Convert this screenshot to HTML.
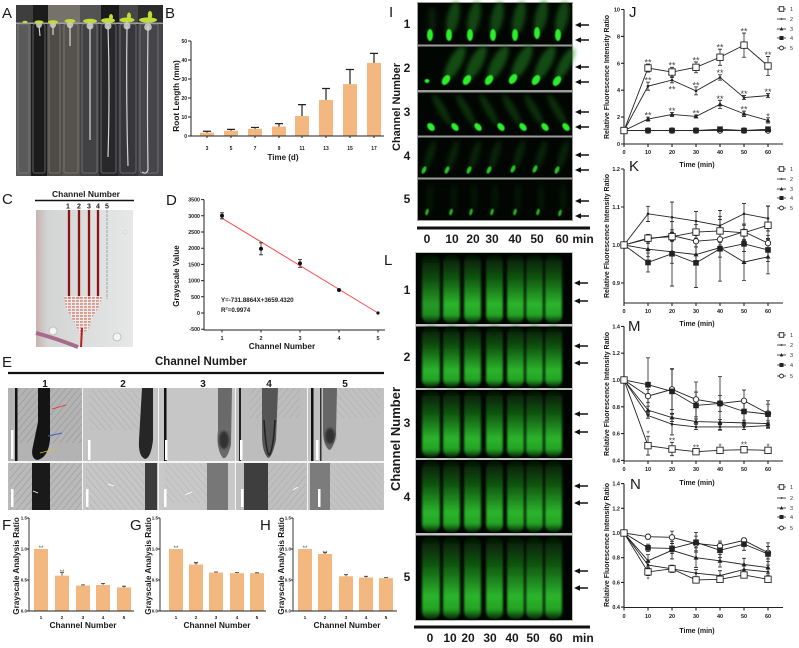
<!DOCTYPE html>
<html><head><meta charset="utf-8"><title>Figure</title>
<style>
html,body{margin:0;padding:0;background:#fff;width:799px;height:648px;overflow:hidden}
svg{display:block;font-family:"Liberation Sans",Arial,sans-serif}
text{fill:#1a1a1a}
.b{font-weight:bold}
</style></head><body>
<svg id="fig" width="799" height="648" viewBox="0 0 799 648" xmlns="http://www.w3.org/2000/svg">
<defs>
 <filter id="bl06" x="-50%" y="-50%" width="200%" height="200%"><feGaussianBlur stdDeviation="0.6"/></filter>
 <filter id="bl1" x="-50%" y="-50%" width="200%" height="200%"><feGaussianBlur stdDeviation="1"/></filter>
 <filter id="bl2" x="-50%" y="-50%" width="200%" height="200%"><feGaussianBlur stdDeviation="2"/></filter>
 <linearGradient id="lg" x1="0" y1="0" x2="0" y2="1">
  <stop offset="0" stop-color="#041404"/>
  <stop offset="0.35" stop-color="#105810"/>
  <stop offset="0.72" stop-color="#2cb42c"/>
  <stop offset="0.88" stop-color="#24a424"/>
  <stop offset="1" stop-color="#062406"/>
 </linearGradient>
 <linearGradient id="cg" x1="0" y1="0" x2="1" y2="0">
  <stop offset="0" stop-color="#c9b2b2"/>
  <stop offset="0.12" stop-color="#d3d5d4"/>
  <stop offset="1" stop-color="#e6e8e7"/>
 </linearGradient>
 <pattern id="grid" width="4" height="3" patternUnits="userSpaceOnUse">
  <rect width="4" height="3" fill="#d49080"/>
  <rect x="0" y="1.9" width="4" height="1.1" fill="#f0eeee"/>
  <rect x="2.9" y="0" width="1.1" height="3" fill="#f0eeee"/>
 </pattern>
 <pattern id="hairA" width="5" height="5" patternUnits="userSpaceOnUse" patternTransform="rotate(-50)">
  <line x1="0" y1="0" x2="5" y2="0" stroke="#333" stroke-width="0.6"/>
 </pattern>
 <pattern id="hairB" width="5" height="5" patternUnits="userSpaceOnUse" patternTransform="rotate(50)">
  <line x1="0" y1="0" x2="5" y2="0" stroke="#333" stroke-width="0.6"/>
 </pattern>
 <path id="arr" d="M0 0 L6 -2.8 L6 -0.8 L14 -0.8 L14 0.8 L6 0.8 L6 2.8 Z"/>
</defs>

<!-- ================= Panel A ================= -->
<text x="2" y="18" font-size="15">A</text>
<rect x="16" y="5" width="147" height="171" fill="#3c3c3c"/>
<rect x="16" y="24" width="15" height="152" fill="#5a5a5a"/>
<rect x="31" y="24" width="16" height="152" fill="#1c1c1c"/>
<rect x="47" y="24" width="15" height="152" fill="#4f4c48"/>
<rect x="62" y="24" width="18" height="152" fill="#56524e"/>
<rect x="80" y="24" width="19" height="152" fill="#424245"/>
<rect x="99" y="24" width="19" height="152" fill="#28282b"/>
<rect x="118" y="24" width="20" height="152" fill="#37373b"/>
<rect x="138" y="24" width="25" height="152" fill="#46464a"/>
<rect x="16" y="5" width="17" height="19" fill="#3e3e3e"/>
<rect x="33" y="5" width="15" height="19" fill="#1c1c1c"/>
<rect x="48" y="5" width="32" height="19" fill="#77716b"/>
<rect x="80" y="5" width="21" height="19" fill="#535353"/>
<rect x="101" y="5" width="18" height="19" fill="#1a1a1a"/>
<rect x="119" y="5" width="19" height="19" fill="#474747"/>
<rect x="138" y="5" width="25" height="19" fill="#2c2c2c"/>
<rect x="16" y="22.5" width="147" height="1.5" fill="#a0a0a0"/>
<g fill="none" stroke="#8c8c8c" stroke-width="0.8" opacity="0.75">
 <rect x="18" y="24" width="11" height="149" rx="2"/>
 <rect x="33" y="24" width="12" height="149" rx="2"/>
 <rect x="49" y="24" width="11" height="149" rx="2"/>
 <rect x="64" y="24" width="14" height="149" rx="2"/>
 <rect x="82" y="24" width="15" height="149" rx="2"/>
 <rect x="101" y="24" width="15" height="149" rx="2"/>
 <rect x="120" y="24" width="16" height="149" rx="2"/>
 <rect x="140" y="24" width="18" height="149" rx="2"/>
</g>
<g stroke="#d4d4d4" stroke-width="1.2" fill="none">
 <path d="M39 26 L40 36"/>
 <path d="M53 26 L53 35"/>
 <path d="M70 26 L70 46"/>
 <path d="M90 26 L90 140"/>
 <path d="M108 26 Q110 90 108 157"/>
 <path d="M127 26 Q126 100 128 166"/>
 <path d="M148 26 Q147 110 148 170 Q146 175 142 172"/>
</g>
<g fill="#d2d2d2" opacity="0.85">
 <circle cx="39" cy="25" r="3"/><circle cx="53" cy="25" r="3"/><circle cx="70" cy="25" r="3.2"/>
 <circle cx="90" cy="26" r="3.5"/><circle cx="108" cy="26" r="3.5"/><circle cx="127" cy="26" r="3.5"/><circle cx="148" cy="27" r="3.8"/>
</g>
<g fill="#c0dc38">
 <ellipse cx="25" cy="22" rx="2.5" ry="1.2"/>
 <ellipse cx="39" cy="22" rx="4.5" ry="1.6"/>
 <ellipse cx="53" cy="22" rx="5" ry="1.8"/>
 <ellipse cx="70" cy="21" rx="5.5" ry="2"/>
 <ellipse cx="90" cy="21" rx="7" ry="2.2"/>
 <ellipse cx="108" cy="20.5" rx="7" ry="2.4"/><ellipse cx="111" cy="17" rx="2" ry="3"/>
 <ellipse cx="127" cy="20" rx="7.5" ry="2.5"/><ellipse cx="129" cy="16" rx="2" ry="3.5"/>
 <ellipse cx="148" cy="20" rx="9" ry="2.6"/><ellipse cx="150" cy="15" rx="2.2" ry="4"/>
</g>

<!-- ================= Panel B ================= -->
<text x="165" y="18" font-size="15">B</text>
<g fill="#f3b87f">
 <rect x="200" y="132.6" width="14" height="3.4"/>
 <rect x="224" y="130.7" width="14" height="5.3"/>
 <rect x="248" y="128.8" width="14" height="7.2"/>
 <rect x="272" y="126.5" width="14" height="9.5"/>
 <rect x="295" y="116.05" width="14" height="19.95"/>
 <rect x="319" y="99.9" width="14" height="36.1"/>
 <rect x="343" y="84.1" width="14" height="51.9"/>
 <rect x="367" y="62.85" width="14" height="73.15"/>
</g>
<path d="M207 132.6V131.25M203 131.25h8M231 130.7V129.35M227 129.35h8M255 128.8V127.45M251 127.45h8M279 126.5V123.65M275 123.65h8M302 116.05V104.65M298 104.65h8M326 99.9V88.5M322 88.5h8M350 84.1V69.5M346 69.5h8M374 62.85V53.35M370 53.35h8" stroke="#222" stroke-width="1.2" fill="none"/>
<path d="M191 41V136H384M188 41h3M188 60h3M188 79h3M188 98h3M188 117h3M188 136h3M207 136v2M231 136v2M255 136v2M279 136v2M302 136v2M326 136v2M350 136v2M374 136v2" stroke="#222" stroke-width="1" fill="none"/>
<g font-size="5" class="b" text-anchor="end">
 <text x="187" y="43">50</text><text x="187" y="62">40</text><text x="187" y="81">30</text>
 <text x="187" y="100">20</text><text x="187" y="119">10</text><text x="187" y="138">0</text>
</g>
<g font-size="5" class="b" text-anchor="middle">
 <text x="207" y="150">3</text><text x="231" y="150">5</text><text x="255" y="150">7</text><text x="279" y="150">9</text>
 <text x="302" y="150">11</text><text x="326" y="150">13</text><text x="350" y="150">15</text><text x="374" y="150">17</text>
</g>
<text x="283" y="160" font-size="8" class="b" text-anchor="middle">Time (d)</text>
<text transform="translate(179,96) rotate(-90)" font-size="8.3" class="b" text-anchor="middle">Root Length (mm)</text>

<!-- ================= Panel C ================= -->
<text x="2" y="204" font-size="15">C</text>
<text x="86" y="197" font-size="8.5" class="b" text-anchor="middle">Channel Number</text>
<line x1="35" y1="200.5" x2="134" y2="200.5" stroke="#111" stroke-width="1.6"/>
<g font-size="7" class="b" text-anchor="middle">
 <text x="68" y="208.5">1</text><text x="79" y="208.5">2</text><text x="89" y="208.5">3</text><text x="98" y="208.5">4</text><text x="107" y="208.5">5</text>
</g>
<rect x="36" y="210" width="97" height="137" fill="url(#cg)"/>
<g stroke="#d49a9a" stroke-width="4" opacity="0.5">
 <line x1="69" y1="210" x2="69" y2="298"/><line x1="79" y1="210" x2="79" y2="298"/><line x1="89" y1="210" x2="89" y2="298"/><line x1="98" y1="210" x2="98" y2="298"/>
</g>
<g stroke="#861616" stroke-width="2">
 <line x1="69" y1="210" x2="69" y2="299"/><line x1="79" y1="210" x2="79" y2="299"/><line x1="89" y1="210" x2="89" y2="299"/><line x1="98" y1="210" x2="98" y2="299"/>
</g>
<line x1="107" y1="210" x2="107" y2="299" stroke="#b4b4b4" stroke-width="1.4" stroke-dasharray="3 1"/>
<polygon points="64,296 102,296 100,305 92,318 88,330 80,334 74,322 66,308" fill="url(#grid)" opacity="0.85"/>
<path d="M36 333 Q55 338 78 347" stroke="#a86a8c" stroke-width="4" fill="none"/>
<path d="M82 328 L81 347" stroke="#b82020" stroke-width="2" fill="none"/>
<circle cx="53" cy="331" r="4" fill="#f4f4f4" stroke="#b8b8b8" stroke-width="0.8"/>
<circle cx="117" cy="337" r="4" fill="#f4f4f4" stroke="#b8b8b8" stroke-width="0.8"/>
<circle cx="125" cy="232" r="1.5" fill="#f6f6f6" stroke="#bbb" stroke-width="0.5"/>

<!-- ================= Panel D ================= -->
<text x="166" y="205" font-size="15">D</text>
<path d="M204 199.6V330H385M201 199.6h3M201 215.8h3M201 232h3M201 248.2h3M201 264.4h3M201 280.6h3M201 296.8h3M201 313h3M201 329.2h3M222 330v2.5M261 330v2.5M300 330v2.5M339 330v2.5M378 330v2.5" stroke="#222" stroke-width="1" fill="none"/>
<g font-size="5.3" class="b" text-anchor="end">
 <text x="200" y="201.6">3500</text><text x="200" y="217.8">3000</text><text x="200" y="234">2500</text>
 <text x="200" y="250.2">2000</text><text x="200" y="266.4">1500</text><text x="200" y="282.6">1000</text>
 <text x="200" y="298.8">500</text><text x="200" y="315">0</text><text x="200" y="331.2">-500</text>
</g>
<g font-size="5.5" class="b" text-anchor="middle">
 <text x="222" y="340">1</text><text x="261" y="340">2</text><text x="300" y="340">3</text><text x="339" y="340">4</text><text x="378" y="340">5</text>
</g>
<line x1="222" y1="218.2" x2="378" y2="313" stroke="#ff4a4a" stroke-width="1"/>
<path d="M222 212.8V218.8M220 212.8h4M220 218.8h4M261 242.8V254.8M259 242.8h4M259 254.8h4M300 259.4V267.4M298 259.4h4M298 267.4h4M339 289V291M378 312V314" stroke="#222" stroke-width="0.8" fill="none"/>
<g fill="#111">
 <circle cx="222" cy="215.8" r="2"/><circle cx="261" cy="248.8" r="2"/><circle cx="300" cy="263.4" r="2"/><circle cx="339" cy="290" r="2"/><circle cx="378" cy="313" r="1.6"/>
</g>
<text x="221" y="302" font-size="6.2" class="b">Y=-731.8864X+3659.4320</text>
<text x="221" y="312" font-size="6.2" class="b">R<tspan font-size="4" dy="-2.5">2</tspan><tspan dy="2.5">=0.9974</tspan></text>
<text x="282" y="349" font-size="8.3" class="b" text-anchor="middle">Channel Number</text>
<text transform="translate(179,276) rotate(-90)" font-size="8" class="b" text-anchor="middle">Grayscale Value</text>

<!-- ================= Panel E ================= -->
<text x="2" y="367" font-size="15">E</text>
<text x="201" y="365" font-size="11.5" class="b" text-anchor="middle">Channel Number</text>
<line x1="8" y1="373" x2="384" y2="373" stroke="#111" stroke-width="2.2"/>
<g font-size="10" class="b" text-anchor="middle">
 <text x="45" y="387">1</text><text x="123" y="387">2</text><text x="203" y="387">3</text><text x="269" y="387">4</text><text x="345" y="387">5</text>
</g>
<rect x="8" y="388" width="376" height="122" fill="#f4f4f4"/>
<rect x="8" y="388" width="74" height="73" fill="#b3b3b3"/>
<rect x="83" y="388" width="75" height="73" fill="#c3c3c3"/>
<rect x="159" y="388" width="76" height="73" fill="#c6c6c6"/>
<rect x="236" y="388" width="71" height="73" fill="#bdbdbd"/>
<rect x="308" y="388" width="76" height="73" fill="#c1c1c1"/>
<rect x="8" y="463" width="74" height="47" fill="#bababa"/>
<rect x="83" y="463" width="75" height="47" fill="#c6c6c6"/>
<rect x="159" y="463" width="76" height="47" fill="#c8c8c8"/>
<rect x="236" y="463" width="71" height="47" fill="#bfbfbf"/>
<rect x="308" y="463" width="76" height="47" fill="#c3c3c3"/>
<rect x="18" y="388" width="64" height="55" fill="url(#hairA)" opacity="0.45"/>
<rect x="90" y="390" width="50" height="40" fill="url(#hairB)" opacity="0.3"/>
<rect x="250" y="388" width="50" height="30" fill="url(#hairA)" opacity="0.3"/>
<rect x="330" y="388" width="50" height="30" fill="url(#hairB)" opacity="0.25"/>
<rect x="10" y="463" width="72" height="47" fill="url(#hairA)" opacity="0.45"/>
<rect x="86" y="463" width="58" height="47" fill="url(#hairB)" opacity="0.3"/>
<rect x="165" y="463" width="42" height="40" fill="url(#hairB)" opacity="0.25"/>
<rect x="268" y="463" width="38" height="47" fill="url(#hairA)" opacity="0.3"/>
<rect x="330" y="463" width="52" height="47" fill="url(#hairB)" opacity="0.22"/>
<rect x="15" y="388" width="2.5" height="73" fill="#111"/>
<rect x="164" y="388" width="2.5" height="73" fill="#111"/>
<rect x="239" y="388" width="2" height="73" fill="#222"/>
<rect x="311" y="388" width="2.5" height="73" fill="#111"/>
<rect x="320" y="388" width="1.5" height="73" fill="#333"/>
<path d="M38 388 L50 388 L50 440 Q48 458 37 460 Q30 458 33 446 L38 422 Z" fill="#141414"/>
<path d="M142 388 L153 388 L153 440 Q151 458 145 459 Q138 456 139 440 Z" fill="#262626"/>
<path d="M218 388 L232 388 L231 445 Q227 460 223 458 Q216 450 218 430 Z" fill="#6a6a6a"/>
<ellipse cx="224" cy="440" rx="5" ry="9" fill="#333" filter="url(#bl1)"/>
<path d="M262 388 L278 388 L276 440 Q272 458 268 458 Q262 452 262 435 Z" fill="#555"/>
<path d="M264 420 Q266 452 269 455 Q273 452 275 420" fill="none" stroke="#222" stroke-width="1.5"/>
<path d="M323 388 L337 388 L336 435 Q333 450 329 450 Q323 445 323 430 Z" fill="#666"/>
<ellipse cx="330" cy="436" rx="5" ry="8" fill="#333" filter="url(#bl1)"/>
<rect x="32" y="463" width="18" height="47" fill="#1a1a1a"/>
<rect x="145" y="463" width="12" height="47" fill="#3c3c3c"/>
<rect x="207" y="463" width="21" height="47" fill="#777"/>
<rect x="244" y="463" width="24" height="47" fill="#3e3e3e"/>
<rect x="310" y="463" width="20" height="47" fill="#7c7c7c"/>
<line x1="52" y1="409" x2="66" y2="405" stroke="#e03030" stroke-width="0.9"/>
<line x1="48" y1="436" x2="62" y2="433" stroke="#4060c0" stroke-width="0.9"/>
<line x1="40" y1="453" x2="55" y2="449" stroke="#e0c020" stroke-width="0.9"/>
<g stroke="#fff" stroke-width="0.9"><line x1="33" y1="491" x2="38" y2="493"/><line x1="108" y1="484" x2="114" y2="486"/><line x1="185" y1="495" x2="192" y2="492"/><line x1="293" y1="490" x2="298" y2="487"/></g>
<g fill="#fff">
 <rect x="11" y="430" width="2.5" height="29"/><rect x="88" y="440" width="2.5" height="20"/><rect x="165" y="440" width="2.5" height="20"/><rect x="240" y="440" width="2.5" height="20"/><rect x="316" y="440" width="2.5" height="20"/>
 <rect x="11" y="489" width="2.5" height="18"/><rect x="86" y="489" width="2.5" height="18"/><rect x="164" y="489" width="2.5" height="18"/><rect x="241" y="489" width="2.5" height="18"/><rect x="318" y="489" width="2.5" height="18"/>
</g>

<!-- ================= Panels F G H ================= -->
<text x="2" y="530" font-size="15">F</text>
<text x="130" y="530" font-size="15">G</text>
<text x="260" y="530" font-size="15">H</text>
<g fill="#f3b87f">
 <rect x="34" y="549" width="14" height="62"/><rect x="55" y="575.66" width="14" height="35.34"/><rect x="76" y="585.58" width="14" height="25.42"/><rect x="96" y="584.96" width="14" height="26.04"/><rect x="117" y="587.44" width="14" height="23.56"/>
 <rect x="169" y="549" width="14" height="62"/><rect x="189" y="564.5" width="14" height="46.5"/><rect x="209" y="572.56" width="14" height="38.44"/><rect x="230" y="573.18" width="14" height="37.82"/><rect x="250" y="573.18" width="14" height="37.82"/>
 <rect x="298" y="549" width="14" height="62"/><rect x="318" y="553.96" width="14" height="57.04"/><rect x="339" y="576.28" width="14" height="34.72"/><rect x="359" y="577.52" width="14" height="33.48"/><rect x="379" y="578.14" width="14" height="32.86"/>
</g>
<path d="M62 575.66V572.6M60 572.6h4M83 585.58V584.9M81 584.9h4M103 584.96V583.4M101 583.4h4M124 587.44V586.2M122 586.2h4M196 564.5V562.6M194 562.6h4M216 572.56V572M214 572h4M237 573.18V572.6M235 572.6h4M257 573.18V572.8M255 572.8h4M325 553.96V552.7M323 552.7h4M346 576.28V574.7M344 574.7h4M366 577.52V576.3M364 576.3h4M386 578.14V577.5M384 577.5h4" stroke="#333" stroke-width="0.8" fill="none"/>
<path d="M29 518V611H134M27 518h2M27 549h2M27 580h2M27 611h2M160 518V611H266M158 518h2M158 549h2M158 580h2M158 611h2M293 518V611H397M291 518h2M291 549h2M291 580h2M291 611h2" stroke="#222" stroke-width="0.9" fill="none"/>
<g font-size="4.5" class="b" text-anchor="end">
 <text x="27" y="519.5">1.5</text><text x="27" y="550.5">1.0</text><text x="27" y="581.5">0.5</text><text x="27" y="612.5">0.0</text>
 <text x="158" y="519.5">1.5</text><text x="158" y="550.5">1.0</text><text x="158" y="581.5">0.5</text><text x="158" y="612.5">0.0</text>
 <text x="291" y="519.5">1.5</text><text x="291" y="550.5">1.0</text><text x="291" y="581.5">0.5</text><text x="291" y="612.5">0.0</text>
</g>
<g font-size="4.8" class="b" text-anchor="middle">
 <text x="41" y="619">1</text><text x="62" y="619">2</text><text x="83" y="619">3</text><text x="103" y="619">4</text><text x="124" y="619">5</text>
 <text x="176" y="619">1</text><text x="196" y="619">2</text><text x="216" y="619">3</text><text x="237" y="619">4</text><text x="257" y="619">5</text>
 <text x="305" y="619">1</text><text x="325" y="619">2</text><text x="346" y="619">3</text><text x="366" y="619">4</text><text x="386" y="619">5</text>
</g>
<g font-size="6" text-anchor="middle">
 <text x="41" y="550" style="fill:#555">**</text><text x="62" y="574" style="fill:#555">**</text>
 <text x="176" y="550" style="fill:#555">**</text><text x="196" y="566" style="fill:#555">**</text>
 <text x="305" y="550" style="fill:#555">**</text><text x="325" y="555" style="fill:#555">**</text>
</g>
<g font-size="8.4" class="b" text-anchor="middle">
 <text x="83" y="628">Channel Number</text><text x="217" y="628">Channel Number</text><text x="347" y="628">Channel Number</text>
</g>
<g font-size="8.2" class="b" text-anchor="middle">
 <text transform="translate(19,566) rotate(-90)">Grayscale Analysis Ratio</text>
 <text transform="translate(151,566) rotate(-90)">Grayscale Analysis Ratio</text>
 <text transform="translate(284,566) rotate(-90)">Grayscale Analysis Ratio</text>
</g>

<!-- ================= Panel I ================= -->
<text x="389" y="17" font-size="15">I</text>
<text transform="translate(400,107) rotate(-90)" font-size="11" class="b" text-anchor="middle">Channel Number</text>
<rect x="417" y="2" width="156" height="219" fill="#9c9c9c"/>
<g fill="#020602">
 <rect x="418" y="3" width="154" height="41.5"/>
 <rect x="418" y="46.5" width="154" height="43.5"/>
 <rect x="418" y="92.5" width="154" height="43"/>
 <rect x="418" y="137.5" width="154" height="40"/>
 <rect x="418" y="179.5" width="154" height="40.5"/>
</g>
<g fill="#1f7a1f" filter="url(#bl2)">
 <ellipse cx="432" cy="20" rx="4" ry="14" opacity="0.2"/>
 <ellipse cx="453" cy="18" rx="6" ry="17" opacity="0.55" transform="rotate(12 453 18)"/>
 <ellipse cx="474" cy="18" rx="6" ry="17" opacity="0.55" transform="rotate(12 474 18)"/>
 <ellipse cx="497" cy="18" rx="6" ry="17" opacity="0.55" transform="rotate(12 497 18)"/>
 <ellipse cx="519" cy="18" rx="6" ry="17" opacity="0.55" transform="rotate(12 519 18)"/>
 <ellipse cx="541" cy="17" rx="6" ry="17" opacity="0.55" transform="rotate(12 541 17)"/>
 <ellipse cx="562" cy="18" rx="6" ry="17" opacity="0.55" transform="rotate(12 562 18)"/>
</g>
<g fill="#2af02a" filter="url(#bl06)">
 <ellipse cx="430" cy="35" rx="3" ry="6"/><ellipse cx="449" cy="35" rx="3" ry="6"/><ellipse cx="470" cy="35" rx="3" ry="6"/>
 <ellipse cx="493" cy="35" rx="3" ry="6"/><ellipse cx="515" cy="35" rx="3" ry="6"/><ellipse cx="537" cy="33" rx="3" ry="6"/><ellipse cx="558" cy="35" rx="3" ry="6"/>
</g>
<g fill="#1f7a1f" filter="url(#bl2)">
 <ellipse cx="455" cy="63" rx="6.5" ry="19" opacity="0.6" transform="rotate(28 455 63)"/>
 <ellipse cx="476" cy="63" rx="6.5" ry="19" opacity="0.6" transform="rotate(28 476 63)"/>
 <ellipse cx="498" cy="63" rx="6.5" ry="19" opacity="0.6" transform="rotate(28 498 63)"/>
 <ellipse cx="522" cy="62" rx="6.5" ry="19" opacity="0.6" transform="rotate(28 522 62)"/>
 <ellipse cx="545" cy="63" rx="6.5" ry="19" opacity="0.6" transform="rotate(28 545 63)"/>
 <ellipse cx="565" cy="64" rx="5.5" ry="18" opacity="0.6" transform="rotate(28 565 64)"/>
</g>
<g fill="#2af02a" filter="url(#bl06)">
 <ellipse cx="427" cy="81" rx="2.5" ry="2"/>
 <ellipse cx="446" cy="80" rx="3.5" ry="5.5" transform="rotate(35 446 80)"/><ellipse cx="467" cy="80" rx="3.5" ry="5.5" transform="rotate(35 467 80)"/>
 <ellipse cx="489" cy="80" rx="3.5" ry="5.5" transform="rotate(35 489 80)"/><ellipse cx="513" cy="79" rx="3.5" ry="5.5" transform="rotate(35 513 79)"/>
 <ellipse cx="536" cy="80" rx="3.5" ry="5.5" transform="rotate(35 536 80)"/><ellipse cx="557" cy="81" rx="3.5" ry="5.5" transform="rotate(35 557 81)"/>
</g>
<g fill="#1f7a1f" filter="url(#bl2)" opacity="0.35">
 <ellipse cx="442" cy="110" rx="4" ry="18" transform="rotate(-30 442 110)"/>
 <ellipse cx="466" cy="110" rx="4" ry="18" transform="rotate(-30 466 110)"/>
 <ellipse cx="489" cy="110" rx="4" ry="18" transform="rotate(-30 489 110)"/>
 <ellipse cx="512" cy="110" rx="4" ry="18" transform="rotate(-30 512 110)"/>
 <ellipse cx="534" cy="110" rx="4" ry="18" transform="rotate(-30 534 110)"/>
 <ellipse cx="557" cy="110" rx="4" ry="18" transform="rotate(-30 557 110)"/>
</g>
<g fill="#2af02a" filter="url(#bl06)">
 <ellipse cx="431" cy="127" rx="3.2" ry="4.5" transform="rotate(-40 431 127)"/><ellipse cx="455" cy="127" rx="3" ry="4.5" transform="rotate(-40 455 127)"/>
 <ellipse cx="478" cy="127" rx="3" ry="4.5" transform="rotate(-40 478 127)"/><ellipse cx="501" cy="127" rx="3" ry="4.5" transform="rotate(-40 501 127)"/>
 <ellipse cx="523" cy="127" rx="3" ry="4.5" transform="rotate(-40 523 127)"/><ellipse cx="545" cy="127" rx="3" ry="4.5" transform="rotate(-40 545 127)"/>
 <ellipse cx="566" cy="127" rx="3" ry="4.5" transform="rotate(-40 566 127)"/>
</g>
<g fill="#1f7a1f" filter="url(#bl2)" opacity="0.25">
 <ellipse cx="430" cy="155" rx="4" ry="15" transform="rotate(18 430 155)"/><ellipse cx="453" cy="155" rx="4" ry="15" transform="rotate(18 453 155)"/>
 <ellipse cx="475" cy="155" rx="4" ry="15" transform="rotate(18 475 155)"/><ellipse cx="495" cy="155" rx="4" ry="15" transform="rotate(18 495 155)"/>
 <ellipse cx="519" cy="155" rx="4" ry="15" transform="rotate(18 519 155)"/><ellipse cx="541" cy="155" rx="4" ry="15" transform="rotate(18 541 155)"/>
 <ellipse cx="563" cy="155" rx="4" ry="15" transform="rotate(18 563 155)"/>
</g>
<g fill="#25c425" filter="url(#bl06)">
 <ellipse cx="424" cy="170" rx="2" ry="4" transform="rotate(25 424 170)"/><ellipse cx="447" cy="170" rx="2" ry="4" transform="rotate(25 447 170)"/>
 <ellipse cx="469" cy="170" rx="2" ry="4" transform="rotate(25 469 170)"/><ellipse cx="489" cy="170" rx="2" ry="4" transform="rotate(25 489 170)"/>
 <ellipse cx="513" cy="169" rx="2" ry="4" transform="rotate(25 513 169)"/><ellipse cx="535" cy="169" rx="2" ry="4" transform="rotate(25 535 169)"/>
 <ellipse cx="557" cy="170" rx="2" ry="4" transform="rotate(25 557 170)"/>
</g>
<g fill="#1f7a1f" filter="url(#bl2)" opacity="0.15">
 <ellipse cx="430" cy="198" rx="3" ry="14"/><ellipse cx="454" cy="198" rx="3" ry="14"/><ellipse cx="474" cy="198" rx="3" ry="14"/>
 <ellipse cx="495" cy="198" rx="3" ry="14"/><ellipse cx="518" cy="198" rx="3" ry="14"/><ellipse cx="541" cy="198" rx="3" ry="14"/><ellipse cx="563" cy="198" rx="3" ry="14"/>
</g>
<g fill="#22b022" filter="url(#bl06)">
 <ellipse cx="427" cy="212" rx="1.6" ry="3.5" transform="rotate(15 427 212)"/><ellipse cx="451" cy="212" rx="1.6" ry="3.5" transform="rotate(15 451 212)"/>
 <ellipse cx="471" cy="212" rx="1.6" ry="3.5" transform="rotate(15 471 212)"/><ellipse cx="492" cy="212" rx="1.6" ry="3.5" transform="rotate(15 492 212)"/>
 <ellipse cx="515" cy="212" rx="1.6" ry="3.5" transform="rotate(15 515 212)"/><ellipse cx="538" cy="212" rx="1.6" ry="3.5" transform="rotate(15 538 212)"/>
 <ellipse cx="560" cy="213" rx="1.6" ry="3.5" transform="rotate(15 560 213)"/>
</g>
<g font-size="12" class="b" text-anchor="middle">
 <text x="407" y="28">1</text><text x="407" y="72">2</text><text x="407" y="116">3</text><text x="407" y="160">4</text><text x="407" y="203">5</text>
</g>
<g fill="#111">
 <use href="#arr" x="575" y="25"/><use href="#arr" x="575" y="40"/>
 <use href="#arr" x="575" y="67"/><use href="#arr" x="575" y="82"/>
 <use href="#arr" x="575" y="112"/><use href="#arr" x="575" y="127"/>
 <use href="#arr" x="575" y="155"/><use href="#arr" x="575" y="170"/>
 <use href="#arr" x="575" y="201"/><use href="#arr" x="575" y="216"/>
</g>
<line x1="417" y1="228" x2="590" y2="228" stroke="#111" stroke-width="3"/>
<g font-size="12" class="b" text-anchor="middle">
 <text x="427" y="243">0</text><text x="452" y="243">10</text><text x="473" y="243">20</text><text x="492" y="243">30</text>
 <text x="515" y="243">40</text><text x="537" y="243">50</text><text x="562" y="243">60</text><text x="583" y="243">min</text>
</g>

<!-- ================= Panel L ================= -->
<text x="384" y="265" font-size="15">L</text>
<text transform="translate(400,439) rotate(-90)" font-size="13" class="b" text-anchor="middle">Channel Number</text>
<rect x="415" y="252" width="158" height="369" fill="#c4c4c4"/>
<g fill="#010501">
 <rect x="416" y="253" width="156" height="71"/>
 <rect x="416" y="326.5" width="156" height="61.5"/>
 <rect x="416" y="390" width="156" height="68"/>
 <rect x="416" y="460" width="156" height="73"/>
 <rect x="416" y="535.5" width="156" height="84.5"/>
</g>
<g fill="url(#lg)" filter="url(#bl1)">
 <rect x="422" y="255" width="18" height="68" rx="7" opacity="0.85"/><rect x="443" y="255" width="17" height="68" rx="7"/><rect x="464" y="255" width="17" height="68" rx="7"/><rect x="486" y="255" width="17" height="68" rx="7"/><rect x="507" y="255" width="17" height="68" rx="7"/><rect x="526" y="255" width="17" height="68" rx="7"/><rect x="545" y="255" width="17" height="68" rx="7"/>
 <rect x="422" y="327" width="18" height="60" rx="7"/><rect x="443" y="327" width="17" height="60" rx="7"/><rect x="464" y="327" width="17" height="60" rx="7"/><rect x="486" y="327" width="17" height="60" rx="7"/><rect x="507" y="327" width="17" height="60" rx="7"/><rect x="526" y="327" width="17" height="60" rx="7"/><rect x="545" y="327" width="17" height="60" rx="7"/>
 <rect x="422" y="391" width="18" height="66" rx="7"/><rect x="443" y="391" width="17" height="66" rx="7"/><rect x="464" y="391" width="17" height="66" rx="7"/><rect x="486" y="391" width="17" height="66" rx="7"/><rect x="507" y="391" width="17" height="66" rx="7"/><rect x="526" y="391" width="17" height="66" rx="7"/><rect x="545" y="391" width="17" height="66" rx="7"/>
 <rect x="422" y="461" width="18" height="71" rx="7"/><rect x="443" y="461" width="17" height="71" rx="7"/><rect x="464" y="461" width="17" height="71" rx="7"/><rect x="486" y="461" width="17" height="71" rx="7"/><rect x="507" y="461" width="17" height="71" rx="7"/><rect x="526" y="461" width="17" height="71" rx="7"/><rect x="545" y="461" width="17" height="71" rx="7"/>
 <rect x="422" y="537" width="18" height="82" rx="7"/><rect x="443" y="537" width="17" height="82" rx="7"/><rect x="464" y="537" width="17" height="82" rx="7"/><rect x="486" y="537" width="17" height="82" rx="7"/><rect x="507" y="537" width="17" height="82" rx="7"/><rect x="526" y="537" width="17" height="82" rx="7"/><rect x="545" y="537" width="17" height="82" rx="7"/>
</g>
<g font-size="12" class="b" text-anchor="middle">
 <text x="407" y="294">1</text><text x="407" y="361">2</text><text x="407" y="427">3</text><text x="407" y="501">4</text><text x="407" y="581">5</text>
</g>
<g fill="#111">
 <use href="#arr" x="574" y="283"/><use href="#arr" x="574" y="301"/>
 <use href="#arr" x="574" y="346"/><use href="#arr" x="574" y="363"/>
 <use href="#arr" x="574" y="414"/><use href="#arr" x="574" y="432"/>
 <use href="#arr" x="574" y="486"/><use href="#arr" x="574" y="503"/>
 <use href="#arr" x="574" y="571"/><use href="#arr" x="574" y="588"/>
</g>
<line x1="414" y1="627" x2="590" y2="627" stroke="#111" stroke-width="3"/>
<g font-size="12" class="b" text-anchor="middle">
 <text x="430" y="642">0</text><text x="450" y="642">10</text><text x="468" y="642">20</text><text x="490" y="642">30</text>
 <text x="512" y="642">40</text><text x="533" y="642">50</text><text x="556" y="642">60</text><text x="583" y="642">min</text>
</g>

<!-- ================= Panels J K M N axes ================= -->
<g stroke="#222" stroke-width="1.1" fill="none">
 <path d="M624 9.5V144H783M621 9.5h3M621 36.4h3M621 63.3h3M621 90.2h3M621 117.1h3M621 144h3M624 144v3M648 144v3M672 144v3M696 144v3M720 144v3M744 144v3M768 144v3"/>
 <path d="M624 169V303H783M621 169h3M621 207h3M621 245h3M621 283h3M624 303v3M648 303v3M672 303v3M696 303v3M720 303v3M744 303v3M768 303v3"/>
 <path d="M624 326.4V461H783M621 326.4h3M621 353.2h3M621 380h3M621 406.8h3M621 433.6h3M621 460.4h3M624 461v3M648 461v3M672 461v3M696 461v3M720 461v3M744 461v3M768 461v3"/>
 <path d="M624 483.6V607.5H783M621 483.6h3M621 508.3h3M621 533h3M621 557.7h3M621 582.4h3M621 607.1h3M624 607.5v3M648 607.5v3M672 607.5v3M696 607.5v3M720 607.5v3M744 607.5v3M768 607.5v3"/>
</g>
<g font-size="5.5" class="b" text-anchor="end">
 <text x="620" y="11.5">10</text><text x="620" y="38.4">8</text><text x="620" y="65.3">6</text><text x="620" y="92.2">4</text><text x="620" y="119.1">2</text><text x="620" y="146">0</text>
 <text x="620" y="171">1.2</text><text x="620" y="209">1.1</text><text x="620" y="247">1.0</text><text x="620" y="285">0.9</text>
 <text x="620" y="328.4">1.4</text><text x="620" y="355.2">1.2</text><text x="620" y="382">1.0</text><text x="620" y="408.8">0.8</text><text x="620" y="435.6">0.6</text><text x="620" y="462.4">0.4</text>
 <text x="620" y="485.6">1.4</text><text x="620" y="510.3">1.2</text><text x="620" y="535">1.0</text><text x="620" y="559.7">0.8</text><text x="620" y="584.4">0.6</text><text x="620" y="609.1">0.4</text>
</g>
<g font-size="5.5" class="b" text-anchor="middle">
 <text x="624" y="154">0</text><text x="648" y="154">10</text><text x="672" y="154">20</text><text x="696" y="154">30</text><text x="720" y="154">40</text><text x="744" y="154">50</text><text x="768" y="154">60</text>
 <text x="624" y="313">0</text><text x="648" y="313">10</text><text x="672" y="313">20</text><text x="696" y="313">30</text><text x="720" y="313">40</text><text x="744" y="313">50</text><text x="768" y="313">60</text>
 <text x="624" y="471">0</text><text x="648" y="471">10</text><text x="672" y="471">20</text><text x="696" y="471">30</text><text x="720" y="471">40</text><text x="744" y="471">50</text><text x="768" y="471">60</text>
 <text x="624" y="618">0</text><text x="648" y="618">10</text><text x="672" y="618">20</text><text x="696" y="618">30</text><text x="720" y="618">40</text><text x="744" y="618">50</text><text x="768" y="618">60</text>
</g>
<g font-size="7" class="b" text-anchor="middle">
 <text x="697" y="167">Time (min)</text><text x="697" y="326">Time (min)</text><text x="697" y="485">Time (min)</text><text x="697" y="633">Time (min)</text>
 <text transform="translate(609,77) rotate(-90)">Relative Fluorescence Intensity Ratio</text>
 <text transform="translate(609,236) rotate(-90)">Relative Fluorescence Intensity Ratio</text>
 <text transform="translate(609,394) rotate(-90)">Relative Fluorescence Intensity Ratio</text>
 <text transform="translate(609,545) rotate(-90)">Relative Fluorescence Intensity Ratio</text>
</g>
<g font-size="15">
 <text x="629" y="17">J</text><text x="629" y="171">K</text><text x="628" y="331">M</text><text x="630" y="489">N</text>
</g>
<g font-size="5.5">
 <text x="790" y="11" style="fill:#333">1</text><text x="790" y="21" style="fill:#333">2</text><text x="790" y="31" style="fill:#333">3</text><text x="790" y="40" style="fill:#333">4</text><text x="790" y="50" style="fill:#333">5</text>
 <text x="790" y="171" style="fill:#333">1</text><text x="790" y="181" style="fill:#333">2</text><text x="790" y="191" style="fill:#333">3</text><text x="790" y="200" style="fill:#333">4</text><text x="790" y="210" style="fill:#333">5</text>
 <text x="790" y="337" style="fill:#333">1</text><text x="790" y="347" style="fill:#333">2</text><text x="790" y="357" style="fill:#333">3</text><text x="790" y="367" style="fill:#333">4</text><text x="790" y="378" style="fill:#333">5</text>
 <text x="790" y="489" style="fill:#333">1</text><text x="790" y="500" style="fill:#333">2</text><text x="790" y="510" style="fill:#333">3</text><text x="790" y="519" style="fill:#333">4</text><text x="790" y="530" style="fill:#333">5</text>
</g>
<g id="plots"></g>
<g font-size="9" text-anchor="middle">
 <text x="648" y="65.5" style="fill:#444">**</text><text x="672" y="68.5" style="fill:#444">**</text><text x="696" y="63.5" style="fill:#444">**</text><text x="720" y="50.5" style="fill:#444">**</text><text x="744" y="34.5" style="fill:#444">**</text><text x="768" y="58" style="fill:#444">**</text>
 <text x="648" y="83.5" style="fill:#444">**</text><text x="672" y="92.5" style="fill:#444">**</text><text x="696" y="88.3" style="fill:#444">**</text><text x="720" y="76.2" style="fill:#444">**</text><text x="744" y="97" style="fill:#444">**</text><text x="768" y="95" style="fill:#444">**</text>
 <text x="648" y="118.5" style="fill:#444">**</text><text x="672" y="113.9" style="fill:#444">**</text><text x="696" y="116.5" style="fill:#444">**</text><text x="720" y="101.8" style="fill:#444">**</text><text x="744" y="112.5" style="fill:#444">**</text><text x="768" y="119.3" style="fill:#444">*</text>
</g>
<g font-size="8" text-anchor="middle">
 <text x="648" y="436.5" style="fill:#444">*</text><text x="672" y="443.5" style="fill:#444">**</text><text x="696" y="450.5" style="fill:#444">**</text><text x="720" y="449.5" style="fill:#444">*</text><text x="744" y="447.5" style="fill:#444">**</text><text x="768" y="449.5" style="fill:#444">*</text>
 <text x="648" y="582.5" style="fill:#444">*</text><text x="768" y="577.5" style="fill:#444">*</text>
</g>
</svg>
<script>
(function(){
var NS='http://www.w3.org/2000/svg';
var root=document.getElementById('plots');
function el(tag,a){var e=document.createElementNS(NS,tag);for(var k in a)e.setAttribute(k,a[k]);root.appendChild(e);return e;}
var T=[0,10,20,30,40,50,60];
function X(t){return 624+t*2.4;}
function marker(type,x,y,s){
 s=s||1;
 if(type===0) el('rect',{x:x-3.2*s,y:y-3.2*s,width:6.4*s,height:6.4*s,fill:'#fff',stroke:'#222','stroke-width':0.9});
 else if(type===1) el('circle',{cx:x,cy:y,r:1.3*s,fill:'#222'});
 else if(type===2) el('path',{d:'M'+x+' '+(y-2.7*s)+' L'+(x+2.5*s)+' '+(y+1.9*s)+' L'+(x-2.5*s)+' '+(y+1.9*s)+'Z',fill:'#222'});
 else if(type===3) el('rect',{x:x-2.8*s,y:y-2.8*s,width:5.6*s,height:5.6*s,fill:'#222'});
 else el('circle',{cx:x,cy:y,r:2.7*s,fill:'#fff',stroke:'#222','stroke-width':0.9});
}
function chart(yf,data,leg){
 data.forEach(function(d){
  var pts=T.map(function(t,i){return X(t)+','+yf(d.v[i]);}).join(' ');
  el('polyline',{points:pts,fill:'none',stroke:'#222','stroke-width':0.9});
 });
 data.forEach(function(d){
  T.forEach(function(t,i){var e=d.e[i];if(!e)return;var x=X(t),y1=yf(d.v[i]-e),y2=yf(d.v[i]+e);
   el('path',{d:'M'+x+' '+y1+'V'+y2+'M'+(x-2)+' '+y1+'h4M'+(x-2)+' '+y2+'h4',stroke:'#222','stroke-width':0.8,fill:'none'});});
 });
 for(var k=data.length-1;k>=0;k--){(function(k){T.forEach(function(t,i){marker(k,X(t),yf(data[k].v[i]));});})(k);}
 leg.forEach(function(y,k){el('line',{x1:777,x2:786,y1:y,y2:y,stroke:'#222','stroke-width':0.8});marker(k,781.5,y,0.72);});
}
chart(function(v){return 144-v*13.45;},[
 {v:[1,5.65,5.35,5.7,6.45,7.35,5.8],e:[0,.3,.35,.4,.6,.9,.7]},
 {v:[1,4.3,4.75,3.95,4.95,3.45,3.6],e:[0,.3,.2,.3,.2,.15,.15]},
 {v:[1,1.85,2.2,2.05,2.95,2.25,1.75],e:[0,.15,.15,.1,.3,.2,.2]},
 {v:[1,1,1,1,1.1,1,1.1],e:[0,.05,.05,.05,.05,.05,.05]},
 {v:[1,1,1,1,1,1,1],e:[0,0,0,0,0,0,0]}
],[9,19,29,38,48]);
chart(function(v){return 245-(v-1)*380;},[
 {v:[1,1.018,1.022,1.034,1.037,1.032,1.052],e:[0,.01,.012,.02,.03,.02,.05]},
 {v:[1,1.082,1.073,1.063,1.051,1.082,1.07],e:[0,.02,.04,.025,.04,.027,.033]},
 {v:[1,.989,.982,.975,.993,.955,.969],e:[0,.02,.03,.02,.025,.048,.045]},
 {v:[1,.954,.977,.953,.99,1.003,.987],e:[0,.025,.085,.065,.085,.02,.03]},
 {v:[1,1.016,1.025,1.01,1.015,1.035,1.005],e:[0,.012,.015,.015,.015,.02,.02]}
],[169,179,189,198,208]);
chart(function(v){return 380-(v-1)*134;},[
 {v:[1,.51,.485,.465,.475,.48,.475],e:[0,.07,.05,.02,.02,.02,.02]},
 {v:[1,.735,.67,.65,.65,.65,.66],e:[0,.02,.08,.02,.02,.02,.02]},
 {v:[1,.775,.72,.69,.685,.68,.675],e:[0,.03,.03,.02,.02,.02,.02]},
 {v:[1,.965,.915,.81,.825,.765,.745],e:[0,.2,.17,.1,.2,.08,.1]},
 {v:[1,.88,.93,.855,.825,.845,.75],e:[0,.05,.15,.13,.06,.08,.07]}
],[335,345,355,365,376]);
chart(function(v){return 533-(v-1)*123.5;},[
 {v:[1,.685,.71,.62,.625,.66,.625],e:[0,.03,.02,.02,.02,.02,.02]},
 {v:[1,.74,.71,.675,.655,.705,.685],e:[0,.03,.03,.03,.04,.03,.03]},
 {v:[1,.775,.86,.8,.775,.745,.72],e:[0,.05,.07,.08,.05,.05,.05]},
 {v:[1,.88,.875,.925,.86,.91,.83],e:[0,.03,.04,.08,.06,.05,.09]},
 {v:[1,.97,.965,.915,.895,.94,.84],e:[0,.02,.05,.06,.04,.02,.05]}
],[487,498,508,517,528]);
})();
</script>
</body></html>
